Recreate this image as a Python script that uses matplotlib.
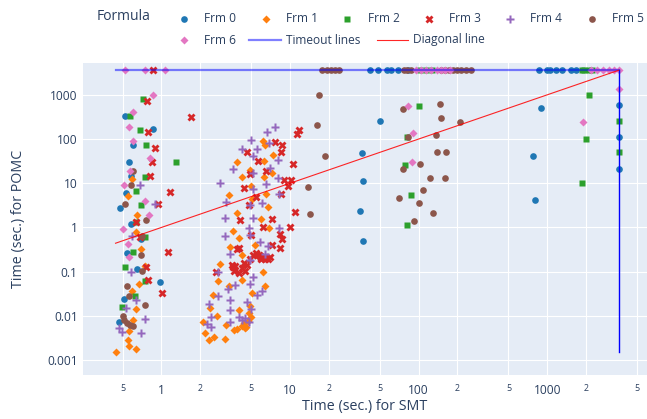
import matplotlib
matplotlib.use("Agg")
import matplotlib.pyplot as plt
from matplotlib.lines import Line2D
from matplotlib.ticker import FixedLocator, FixedFormatter, NullLocator

plt.rcParams['font.family'] = ['Open Sans', 'DejaVu Sans']
TXT = '#2a3f5f'

TIMEOUT = 3600  # seconds, the time limit used for both tools

# ---- data: SMT time (x) and POMC time (y) per formula ----
frm0_smt = [0.52, 0.86, 0.60, 0.56, 0.58, 0.53, 0.48, 0.58, 0.70, 0.54, 0.65, 0.97, 0.51, 0.47,
            50, 36, 37, 35, 37, 900, 780, 800, 3600, 3600, 3600,
            42, 48.5, 57, 60.5, 69, 83, 870, 990, 1060, 1170, 1310, 1540, 1690]
frm0_pomc = [330, 170, 73, 30, 14.7, 6.1, 2.7, 1.2, 0.56, 0.266, 0.117, 0.057, 0.024, 0.0074,
             252, 48, 11, 2.35, 0.49, 505, 42, 4.1, 580, 113, 21.5,
             3600, 3600, 3600, 3600, 3600, 3600, 3600, 3600, 3600, 3600, 3600, 3600, 3600]

frm1_smt = [0.59, 0.55, 0.65, 0.63, 0.69, 0.75, 0.67, 0.59, 0.64, 0.60, 0.56, 0.55, 0.56, 0.63, 0.44,
            6.2, 6.4, 7.4, 3.9, 6.3, 4.9, 4.24, 6.3, 7.2, 5.0, 3.33, 6.5, 5.06, 6.8, 3.87, 5.9,
            6.9, 3.6, 4.0, 5.3, 3.4, 4.24, 2.84, 6.2, 2.74, 4.27, 3.33, 6.35, 2.5, 5.06, 2.37,
            3.98, 4.76, 2.7, 2.1, 3.18, 4.36, 4.58, 3.65, 3.9, 2.17, 2.55, 2.33, 3.1,
            5.0, 4.7, 4.2, 4.45, 4.9]
frm1_pomc = [12.8, 5.15, 1.87, 0.78, 0.32, 0.137, 0.053, 0.036, 0.0142, 0.0081, 0.0046, 0.0029, 0.0021, 0.0018, 0.0015,
             92, 74, 43, 29.5, 32, 20, 13.5, 13.5, 17.5, 8.7, 5.4, 5.6, 4.3, 2.9, 2.16, 1.52,
             0.98, 0.85, 0.58, 0.40, 0.36, 0.24, 0.15, 0.098, 0.062, 0.066, 0.047, 0.047, 0.029, 0.033, 0.015,
             0.0133, 0.0115, 0.0097, 0.0071, 0.0062, 0.0068, 0.0057, 0.0048, 0.005, 0.0042, 0.0033, 0.0029, 0.003,
             0.0095, 0.0078, 0.0058, 0.0052, 0.017]

frm2_smt = [0.72, 0.57, 0.68, 0.76, 1.30, 0.74, 0.64, 0.70, 0.64, 0.75, 0.60, 0.52, 0.74, 0.62, 0.49,
            100, 81, 78, 87, 82, 2100, 2000, 1880, 3600, 3600,
            103, 115, 127, 1850, 1950, 2100, 2250]
frm2_pomc = [810, 330, 163, 73, 30, 14, 6.6, 3.15, 1.32, 0.6, 0.275, 0.125, 0.06, 0.0275, 0.0155,
             560, 113, 26, 5.4, 1.13, 1000, 102, 10, 260, 51,
             3600, 3600, 3600, 3600, 3600, 3600, 3600]

frm3_smt = [0.86, 0.77, 1.70, 0.79, 0.90, 0.84, 0.81, 1.17, 0.94, 0.64, 0.68, 1.13, 0.76, 0.78, 1.01,
            11.8, 11.3, 7.7, 8.6, 8.5, 4.6, 5.6, 10.6, 6.5, 4.85, 9.0, 10.1, 9.6, 4.4, 8.5, 5.4,
            4.8, 11, 4.1, 7.3, 6.2, 10, 8.3, 5.0, 8.7, 4.0, 7.2, 8.4, 3.9,
            5.4, 5.7, 6.1, 6.4, 6.8, 5.15, 5.9, 6.2, 3.54, 3.76, 4.36, 4.63, 4.24, 4.5, 3.98,
            3.65, 2.67, 3.6, 5.5, 4.9, 6.4, 5.8, 6.0, 7.0]
frm3_pomc = [3600, 720, 320, 146, 62, 29.5, 14.7, 6.5, 3.45, 1.32, 0.61, 0.275, 0.13, 0.066, 0.033,
             163, 130, 87, 74, 52, 52, 32, 27.5, 18.5, 16.3, 11.7, 11.7, 8.7, 7.7, 5.7, 5.0,
             3.2, 2.2, 1.5, 1.57, 1.0, 1.0, 0.72, 0.67, 0.55, 0.34, 0.40, 0.345, 0.33,
             0.265, 0.24, 0.205, 0.22, 0.19, 0.24, 0.19, 0.21, 0.144, 0.132, 0.158, 0.144, 0.121, 0.102, 0.093,
             0.102, 0.098, 0.13, 0.24, 0.19, 0.19, 0.225, 0.2, 0.21]

frm4_smt = [0.68, 0.89, 0.58, 0.63, 0.53, 0.74, 0.47, 0.49, 0.69, 0.59,
            7.6, 6.6, 5.0, 6.9, 4.2, 5.5, 5.15, 8.1, 3.6, 7.0, 5.15, 8.0, 2.84, 5.2, 6.5, 8.2,
            3.18, 6.05, 4.9, 3.14, 5.2, 4.8, 8.2, 3.14, 4.85, 5.8, 6.8, 3.4, 4.9, 6.4, 2.77,
            5.2, 3.76, 4.9, 3.3, 6.05, 5.5, 2.76, 3.4, 2.33, 4.63, 5.0, 2.43, 3.4, 3.98, 4.24,
            4.5, 4.8, 3.4, 2.26, 2.43]
frm4_pomc = [9.0, 3.45, 0.10, 0.023, 0.015, 0.0086, 0.0052, 0.0044, 0.0042, 0.63,
             185, 147, 96, 80, 59, 59, 42, 33, 21, 21.6, 17.5, 13, 10.4, 7.6, 9.8, 5.8,
             3.76, 3.6, 3.3, 1.66, 1.6, 0.98, 0.95, 0.63, 0.69, 0.46, 0.39, 0.256, 0.18, 0.256, 0.10,
             0.076, 0.051, 0.053, 0.04, 0.036, 0.03, 0.0275, 0.023, 0.019, 0.021, 0.0142, 0.0093, 0.0137, 0.0095, 0.0081,
             0.0088, 0.0074, 0.0074, 0.0066, 0.0057]

frm5_smt = [0.60, 0.58, 0.52, 0.76, 0.71, 0.69, 0.71, 0.54, 0.56, 0.74, 0.50, 0.51, 0.54, 0.57, 0.60,
            16.9, 16.3, 18.7, 13.9, 14.4, 76, 146, 149, 210, 83, 136, 139, 163, 103, 76, 122, 160,
            108, 71, 101, 129, 92,
            17.8, 19.5, 21, 22.5, 24, 77, 82, 88, 150, 160, 172, 185, 200, 215, 235, 255]
frm5_pomc = [19, 9.0, 3.45, 1.46, 0.63, 0.24, 0.105, 0.048, 0.0275, 0.018, 0.01, 0.0081, 0.0068, 0.0062, 0.006,
             980, 204, 42, 8.4, 1.97, 473, 630, 300, 240, 111, 125, 51, 51, 27, 21, 13, 13,
             6.9, 4.7, 3.5, 2.1, 1.37,
             3600, 3600, 3600, 3600, 3600, 3600, 3600, 3600, 3600, 3600, 3600, 3600, 3600, 3600, 3600, 3600]

frm6_smt = [0.52, 0.75, 1.07, 0.86, 0.60, 0.56, 0.60, 0.81, 0.57, 0.51, 0.75, 0.80, 0.50, 0.55, 0.56,
            83, 90, 89, 3600, 1910,
            95, 105, 115, 125, 140, 150, 160, 175, 2200, 2450, 2700, 3000, 3300, 3600]
frm6_pomc = [3600, 3600, 3600, 1000, 405, 190, 90, 38, 18.5, 9.0, 4.0, 1.9, 0.9, 0.43, 0.215,
             560, 139, 30, 1380, 243,
             3600, 3600, 3600, 3600, 3600, 3600, 3600, 3600, 3600, 3600, 3600, 3600, 3600, 3600]

names = ['Frm 0', 'Frm 1', 'Frm 2', 'Frm 3', 'Frm 4', 'Frm 5', 'Frm 6']
smt_all = [frm0_smt, frm1_smt, frm2_smt, frm3_smt, frm4_smt, frm5_smt, frm6_smt]
pomc_all = [frm0_pomc, frm1_pomc, frm2_pomc, frm3_pomc, frm4_pomc, frm5_pomc, frm6_pomc]
colors = ['#1f77b4', '#ff7f0e', '#2ca02c', '#d62728', '#9467bd', '#8c564b', '#e377c2']
markers = ['o', 'D', 's', 'X', 'P', 'o', 'D']
msizes = [4.8, 4.0, 4.8, 5.8, 6.0, 4.8, 4.0]

# ---- figure / axes placement (plotly-like layout) ----
W, H = 647, 419
fig = plt.figure(figsize=(W / 100, H / 100), dpi=100)
x0, x1, y0, y1 = 82.6, 646.5, 63, 375   # plot area in pixels
ax = fig.add_axes([x0 / W, 1 - y1 / H, (x1 - x0) / W, (y1 - y0) / H])
ax.set_facecolor('#e5ecf6')
for s in ax.spines.values():
    s.set_visible(False)

ax.set_xscale('log')
ax.set_yscale('log')
ax.set_xlim(0.244, 5920)
ax.set_ylim(0.00046, 5250)

# scatter of every formula
for name, xs, ys, c, m, ms in zip(names, smt_all, pomc_all, colors, markers, msizes):
    ax.plot(xs, ys, linestyle='none', marker=m, ms=ms, color=c, mec='none', zorder=3)

# timeout lines and diagonal, built from the data range
min_smt = min(min(v) for v in smt_all)
min_pomc = min(min(v) for v in pomc_all)
ax.plot([min_smt, TIMEOUT], [TIMEOUT, TIMEOUT], color='blue', alpha=0.5, lw=1.6, zorder=4)
ax.plot([TIMEOUT, TIMEOUT], [min_pomc, TIMEOUT], color='blue', lw=1.0, zorder=4)
ax.plot([min_smt, TIMEOUT], [min_smt, TIMEOUT], color='red', alpha=0.85, lw=0.8, zorder=4)

# ticks and grid
xmaj = [1, 10, 100, 1000]
xmin = [0.5, 2, 5, 20, 50, 200, 500, 2000, 5000]
ax.xaxis.set_major_locator(FixedLocator(xmaj))
ax.xaxis.set_major_formatter(FixedFormatter(['1', '10', '100', '1000']))
ax.xaxis.set_minor_locator(FixedLocator(xmin))
ax.xaxis.set_minor_formatter(FixedFormatter(['5', '2', '5', '2', '5', '2', '5', '2', '5']))
ymaj = [0.001, 0.01, 0.1, 1, 10, 100, 1000]
ax.yaxis.set_major_locator(FixedLocator(ymaj))
ax.yaxis.set_major_formatter(FixedFormatter(['0.001', '0.01', '0.1', '1', '10', '100', '1000']))
ax.yaxis.set_minor_locator(NullLocator())

ax.tick_params(axis='both', which='both', length=0, colors=TXT)
ax.tick_params(axis='x', which='major', labelsize=8.6, pad=6.5)
ax.tick_params(axis='x', which='minor', labelsize=6.4, pad=6.5)
ax.tick_params(axis='y', which='major', labelsize=8.6, pad=3.5)
ax.set_axisbelow(True)
ax.grid(True, which='both', axis='x', color='white', lw=0.8)
ax.grid(True, which='major', axis='y', color='white', lw=0.8)

# axis titles
fig.text((x0 + x1) / 2 / W, 1 - 406 / H, 'Time (sec.) for SMT', ha='center', va='center', fontsize=10.3, color=TXT)
fig.text(19 / W, 1 - (y0 + y1) / 2 / H, 'Time (sec.) for POMC', rotation=90, ha='center', va='center',
         fontsize=10.3, color=TXT)

# ---- legend drawn by hand to follow the two-row layout ----
def px(x, y):
    return x / W, 1 - y / H

fig.text(*px(97, 16.5), 'Formula', ha='left', va='center', fontsize=10, color=TXT)
row1_x = [184, 265.7, 347, 428.5, 509.5, 592]
leg_pos = [(x, 19) for x in row1_x] + [(184, 40)]
for (lx, ly), name, c, m, ms in zip(leg_pos, names, colors, markers, msizes):
    fig.add_artist(Line2D([lx / W], [1 - ly / H], transform=fig.transFigure, linestyle='none',
                          marker=m, ms=ms, color=c, mec='none'))
    fig.text(*px(lx + 20.5, ly), name, ha='left', va='center', fontsize=8.6, color=TXT)

fig.add_artist(Line2D([249 / W, 281 / W], [1 - 40 / H] * 2, transform=fig.transFigure,
                      color='blue', alpha=0.5, lw=1.6))
fig.text(*px(286, 40), 'Timeout lines', ha='left', va='center', fontsize=8.6, color=TXT)
fig.add_artist(Line2D([377 / W, 408 / W], [1 - 40 / H] * 2, transform=fig.transFigure,
                      color='red', alpha=0.85, lw=0.8))
fig.text(*px(413, 40), 'Diagonal line', ha='left', va='center', fontsize=8.6, color=TXT)

fig.savefig('out.png', dpi=100, facecolor='white')
